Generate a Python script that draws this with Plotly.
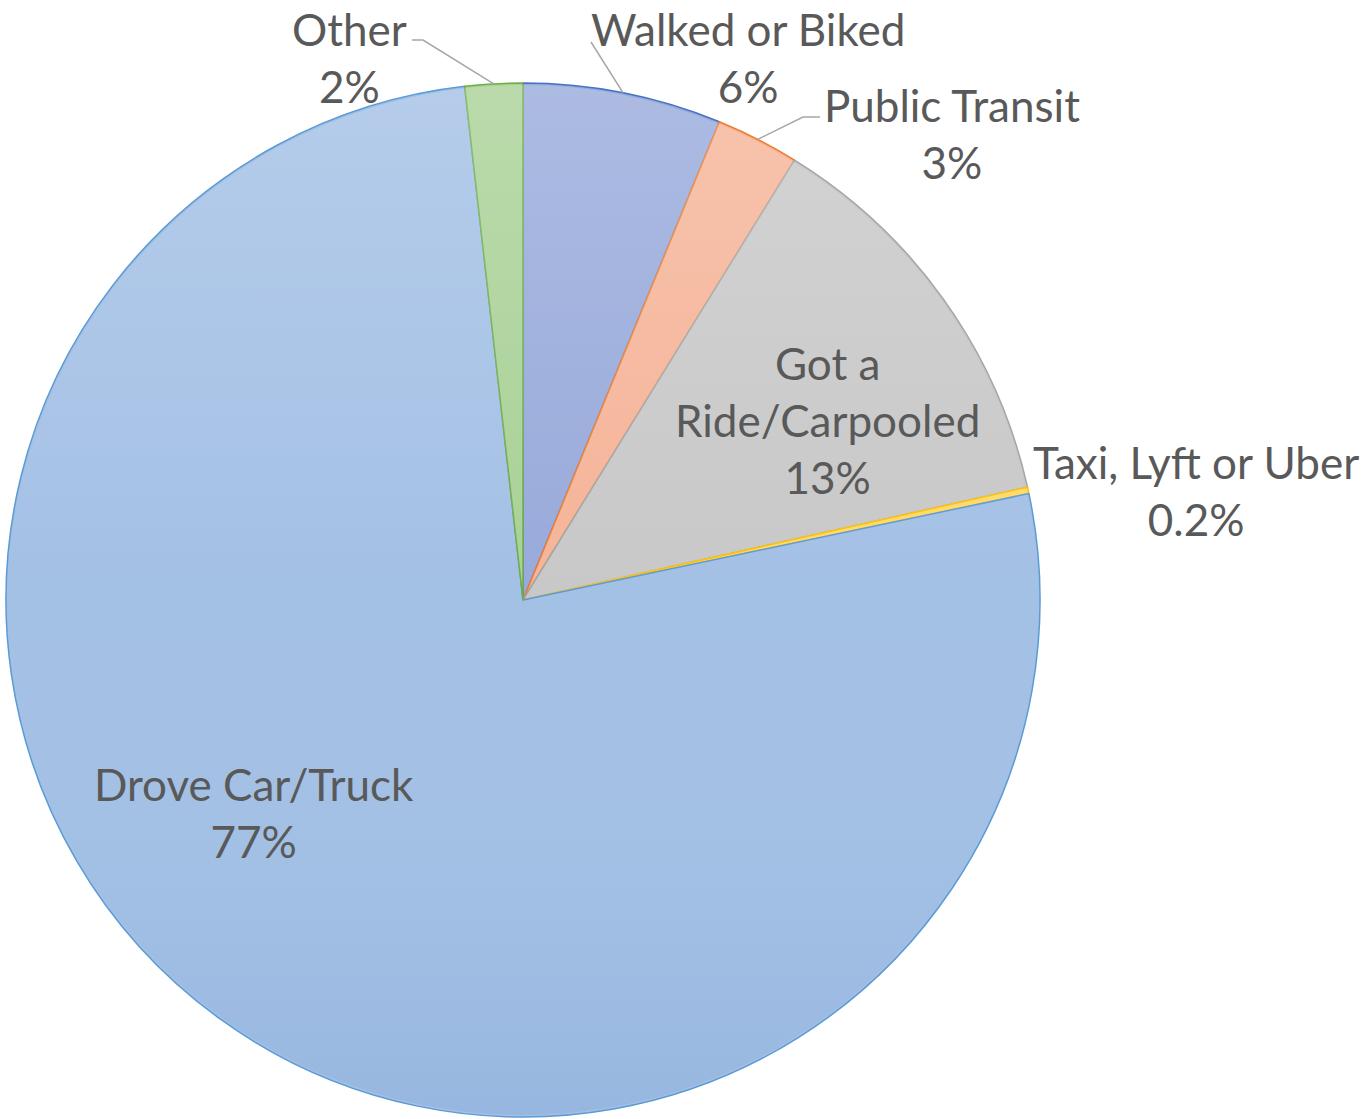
import math
import base64
import plotly.graph_objects as go

# ---------------- data ----------------
categories = ["Walked or Biked", "Public Transit", "Got a Ride/Carpooled",
              "Taxi, Lyft or Uber", "Drove Car/Truck", "Other"]
shares = [6.2, 2.6, 12.7, 0.2, 76.5, 1.8]
pct_labels = ["6%", "3%", "13%", "0.2%", "77%", "2%"]
label_texts = ["Walked or Biked", "Public Transit", "Got a<br>Ride/Carpooled",
               "Taxi, Lyft or Uber", "Drove Car/Truck", "Other"]

# ---------------- style ----------------
W, H = 1362, 1119
CX, CY, R = 523, 600, 517
fill_colors = ["#98AADB", "#F5B498", "#C8C8C8", "#FFD966", "#A3C0E5", "#A9D196"]
line_colors = ["#4472C4", "#ED7D31", "#A5A5A5", "#FFC000", "#5B9BD5", "#70AD47"]
TEXT_COLOR = "#595959"
FONT = "Lato, 'Noto Sans', sans-serif"
FS = 44

# label block centers (px) and leader-line elbows (px) -- layout only
label_pos = {
    "Walked or Biked": (748, 58),
    "Public Transit": (952, 133),
    "Got a Ride/Carpooled": (828, 420),
    "Taxi, Lyft or Uber": (1196, 491),
    "Drove Car/Truck": (254, 812),
    "Other": (349, 58),
}
leaders = {
    "Walked or Biked": [(591, 42)],
    "Public Transit": [(820, 117), (803, 117)],
    "Other": [(412, 40), (423, 40)],
}


def px(x):
    return x / W


def py(y):
    return 1 - y / H


fig = go.Figure(go.Pie(
    labels=categories,
    values=shares,
    sort=False,
    direction="clockwise",
    rotation=0,
    textinfo="none",
    hoverinfo="label+percent",
    marker=dict(colors=fill_colors, line=dict(color=line_colors, width=1.5)),
    domain=dict(x=[px(CX - R), px(CX + R)], y=[py(CY + R), py(CY - R)]),
    showlegend=False,
))

# gradient overlay, clipped to the pie circle
svg = (
    '<svg xmlns="http://www.w3.org/2000/svg" width="1000" height="1000" viewBox="0 0 1000 1000">'
    '<defs><linearGradient id="g" x1="0" y1="0" x2="0" y2="1">'
    '<stop offset="0" stop-color="#ffffff" stop-opacity="0.20"/>'
    '<stop offset="0.5" stop-color="#ffffff" stop-opacity="0"/>'
    '<stop offset="1" stop-color="#2a63b0" stop-opacity="0.10"/>'
    '</linearGradient></defs>'
    '<circle cx="500" cy="500" r="498" fill="url(#g)"/></svg>'
)
src = "data:image/svg+xml;base64," + base64.b64encode(svg.encode()).decode()
fig.add_layout_image(dict(
    source=src, xref="paper", yref="paper",
    x=px(CX - R), y=py(CY - R), sizex=2 * R / W, sizey=2 * R / H,
    xanchor="left", yanchor="top", sizing="stretch", layer="above",
))

# labels and leader lines
total = sum(shares)
cum = 0.0
for cat, val, pct, txt in zip(categories, shares, pct_labels, label_texts):
    mid = (cum + val / 2) / total * 2 * math.pi
    cum += val
    lx, ly = label_pos[cat]
    fig.add_annotation(
        x=px(lx), y=py(ly), xref="paper", yref="paper",
        text=f"{txt}<br>{pct}", showarrow=False,
        xanchor="center", yanchor="middle", align="center",
        font=dict(family=FONT, size=FS, color=TEXT_COLOR),
    )
    if cat in leaders:
        ex = CX + R * math.sin(mid)
        ey = CY - R * math.cos(mid)
        pts = leaders[cat] + [(ex, ey)]
        path = "M " + " L ".join(f"{px(x)},{py(y)}" for x, y in pts)
        fig.add_shape(type="path", path=path, xref="paper", yref="paper",
                      line=dict(color="#A6A6A6", width=1.5))

fig.update_layout(
    width=W, height=H,
    margin=dict(l=0, r=0, t=0, b=0),
    paper_bgcolor="white", plot_bgcolor="white",
    font=dict(family=FONT, color=TEXT_COLOR),
)

fig.write_html(
    "out.html",
    config={"displayModeBar": False},
    post_script="document.body.style.margin='0';document.body.style.overflow='hidden';",
)
